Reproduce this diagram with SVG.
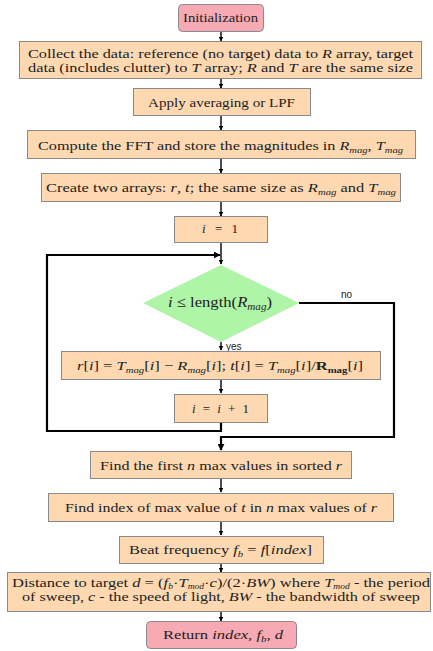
<svg xmlns="http://www.w3.org/2000/svg" width="433" height="651" viewBox="0 0 433 651">
<style>
.box{fill:#fdd8b1;stroke:#8a8a8a;stroke-width:1}
.term{fill:#f7aab3;stroke:#8a8a8a;stroke-width:1}
.dec{fill:#aff5a8;stroke:none}
.t{font-family:"Liberation Serif","Times New Roman",serif;font-size:13px;fill:#222}
.i{font-style:italic}
.s{font-size:8.5px;font-style:italic}
.ss{font-size:7.5px;font-style:italic}
.lbl{font-family:"Liberation Sans",Arial,sans-serif;font-size:10px;fill:#222}
.c{fill:none;stroke:#000;stroke-width:1.4}
.loop{fill:none;stroke:#000;stroke-width:2.2}
</style>
<defs>
<marker id="ah" viewBox="0 0 10 10" refX="9" refY="5" markerWidth="5" markerHeight="5" markerUnits="userSpaceOnUse" orient="auto"><path d="M0,0 L10,5 L0,10 z" fill="#000"/></marker>
<marker id="ah2" viewBox="0 0 10 10" refX="9" refY="5" markerWidth="7" markerHeight="7" markerUnits="userSpaceOnUse" orient="auto"><path d="M0,0 L10,5 L0,10 z" fill="#000"/></marker>
</defs>
<g id="connectors">
<path class="c" d="M221,32 V41" marker-end="url(#ah)"/>
<path class="c" d="M221,78 V88" marker-end="url(#ah)"/>
<path class="c" d="M221,116 V130" marker-end="url(#ah)"/>
<path class="c" d="M221,159 V173" marker-end="url(#ah)"/>
<path class="c" d="M221,202 V216" marker-end="url(#ah)"/>
<path class="c" d="M221,243 V264" marker-end="url(#ah)"/>
<path class="c" d="M221,342 V350" marker-end="url(#ah)"/>
<path class="c" d="M221,380 V393" marker-end="url(#ah)"/>
<path class="loop" d="M221,423 V431 H47 V255 H220" marker-end="url(#ah2)"/>
<path class="loop" d="M299,303 H394 V437 H221 V450" marker-end="url(#ah2)"/>
<path class="c" d="M221,479 V492" marker-end="url(#ah)"/>
<path class="c" d="M221,522 V535" marker-end="url(#ah)"/>
<path class="c" d="M221,563 V572" marker-end="url(#ah)"/>
<path class="c" d="M221,611 V621" marker-end="url(#ah)"/>
<text class="lbl" x="341" y="298">no</text>
<text class="lbl" x="226" y="350">yes</text>
</g>
<g id="init">
<rect class="term" x="178.5" y="4.5" width="85" height="27" rx="4"/>
<text class="t" x="183" y="22" textLength="75" lengthAdjust="spacingAndGlyphs">Initialization</text>
</g>
<g id="collect">
<rect class="box" x="19.5" y="41.5" width="402" height="37"/>
<text class="t" x="28" y="58" textLength="385" lengthAdjust="spacingAndGlyphs">Collect the data: reference (no target) data to <tspan class="i">R</tspan> array, target</text>
<text class="t" x="28" y="71.5" textLength="385" lengthAdjust="spacingAndGlyphs">data (includes clutter) to <tspan class="i">T</tspan> array; <tspan class="i">R</tspan> and <tspan class="i">T</tspan> are the same size</text>
</g>
<g id="apply">
<rect class="box" x="133.5" y="88.5" width="177" height="27"/>
<text class="t" x="148" y="107" textLength="147" lengthAdjust="spacingAndGlyphs">Apply averaging or LPF</text>
</g>
<g id="fft">
<rect class="box" x="27.5" y="130.5" width="388" height="28"/>
<text class="t" x="38" y="150" textLength="365" lengthAdjust="spacingAndGlyphs">Compute the FFT and store the magnitudes in <tspan class="i">R</tspan><tspan class="s" dy="2.5">mag</tspan><tspan dy="-2.5">, </tspan><tspan class="i">T</tspan><tspan class="s" dy="2.5">mag</tspan></text>
</g>
<g id="arrays">
<rect class="box" x="41.5" y="173.5" width="359" height="28"/>
<text class="t" x="46" y="192" textLength="350" lengthAdjust="spacingAndGlyphs">Create two arrays: <tspan class="i">r</tspan>, <tspan class="i">t</tspan>; the same size as <tspan class="i">R</tspan><tspan class="s" dy="2.5">mag</tspan><tspan dy="-2.5"> and </tspan><tspan class="i">T</tspan><tspan class="s" dy="2.5">mag</tspan></text>
</g>
<g id="init_i">
<rect class="box" x="174.5" y="216.5" width="93" height="26"/>
<text class="t" x="202" y="233" textLength="36" lengthAdjust="spacing"><tspan class="i">i</tspan> = 1</text>
</g>
<g id="cond">
<polygon class="dec" points="221,265 299,303 221,342 143,303"/>
<text class="t" x="168" y="307" style="font-size:15px" textLength="104" lengthAdjust="spacingAndGlyphs"><tspan class="i">i</tspan> ≤ length(<tspan class="i">R</tspan><tspan class="s" dy="2.5" style="font-size:10px">mag</tspan><tspan dy="-2.5">)</tspan></text>
</g>
<g id="compute_rt">
<rect class="box" x="61.5" y="351.5" width="319" height="28"/>
<text class="t" x="77" y="370" textLength="286" lengthAdjust="spacingAndGlyphs"><tspan class="i">r</tspan>[<tspan class="i">i</tspan>] = <tspan class="i">T</tspan><tspan class="s" dy="2.5">mag</tspan><tspan dy="-2.5">[</tspan><tspan class="i">i</tspan>] − <tspan class="i">R</tspan><tspan class="s" dy="2.5">mag</tspan><tspan dy="-2.5">[</tspan><tspan class="i">i</tspan>]; <tspan class="i">t</tspan>[<tspan class="i">i</tspan>] = <tspan class="i">T</tspan><tspan class="s" dy="2.5">mag</tspan><tspan dy="-2.5">[</tspan><tspan class="i">i</tspan>]/<tspan font-weight="bold">R</tspan><tspan font-weight="bold" font-size="8.5" dy="2.5">mag</tspan><tspan dy="-2.5">[</tspan><tspan class="i">i</tspan>]</text>
</g>
<g id="incr">
<rect class="box" x="174.5" y="394.5" width="93" height="28"/>
<text class="t" x="192" y="413" textLength="57" lengthAdjust="spacing"><tspan class="i">i</tspan> = <tspan class="i">i</tspan> + 1</text>
</g>
<g id="find_max">
<rect class="box" x="90.5" y="451.5" width="261" height="27"/>
<text class="t" x="100" y="470" textLength="242" lengthAdjust="spacingAndGlyphs">Find the first <tspan class="i">n</tspan> max values in sorted <tspan class="i">r</tspan></text>
</g>
<g id="find_index">
<rect class="box" x="48.5" y="493.5" width="345" height="28"/>
<text class="t" x="65" y="512" textLength="312" lengthAdjust="spacingAndGlyphs">Find index of max value of <tspan class="i">t</tspan> in <tspan class="i">n</tspan> max values of <tspan class="i">r</tspan></text>
</g>
<g id="beat">
<rect class="box" x="119.5" y="536.5" width="204" height="27"/>
<text class="t" x="129" y="554" textLength="183" lengthAdjust="spacingAndGlyphs">Beat frequency <tspan class="i">f</tspan><tspan class="s" dy="2.5">b</tspan><tspan dy="-2.5"> = </tspan><tspan class="i">f</tspan>[<tspan class="i">index</tspan>]</text>
</g>
<g id="distance">
<rect class="box" x="7.5" y="572.5" width="423" height="39"/>
<text class="t" x="12" y="587" textLength="418" lengthAdjust="spacingAndGlyphs">Distance to target <tspan class="i">d</tspan> = (<tspan class="i">f</tspan><tspan class="ss" dy="1.5">b</tspan><tspan dy="-1.5">·</tspan><tspan class="i">T</tspan><tspan class="ss" dy="1.5">mod</tspan><tspan dy="-1.5">·</tspan><tspan class="i">c</tspan>)/(2·<tspan class="i">BW</tspan>) where <tspan class="i">T</tspan><tspan class="ss" dy="1.5">mod</tspan><tspan dy="-1.5"> - the period</tspan></text>
<text class="t" x="22" y="601" textLength="398" lengthAdjust="spacingAndGlyphs">of sweep, <tspan class="i">c</tspan> - the speed of light, <tspan class="i">BW</tspan> - the bandwidth of sweep</text>
</g>
<g id="return">
<rect class="term" x="146.5" y="621.5" width="150" height="27" rx="4"/>
<text class="t" x="163" y="639" textLength="120" lengthAdjust="spacingAndGlyphs">Return <tspan class="i">index</tspan>, <tspan class="i">f</tspan><tspan class="s" dy="2.5">b</tspan><tspan dy="-2.5">, </tspan><tspan class="i">d</tspan></text>
</g>
</svg>
